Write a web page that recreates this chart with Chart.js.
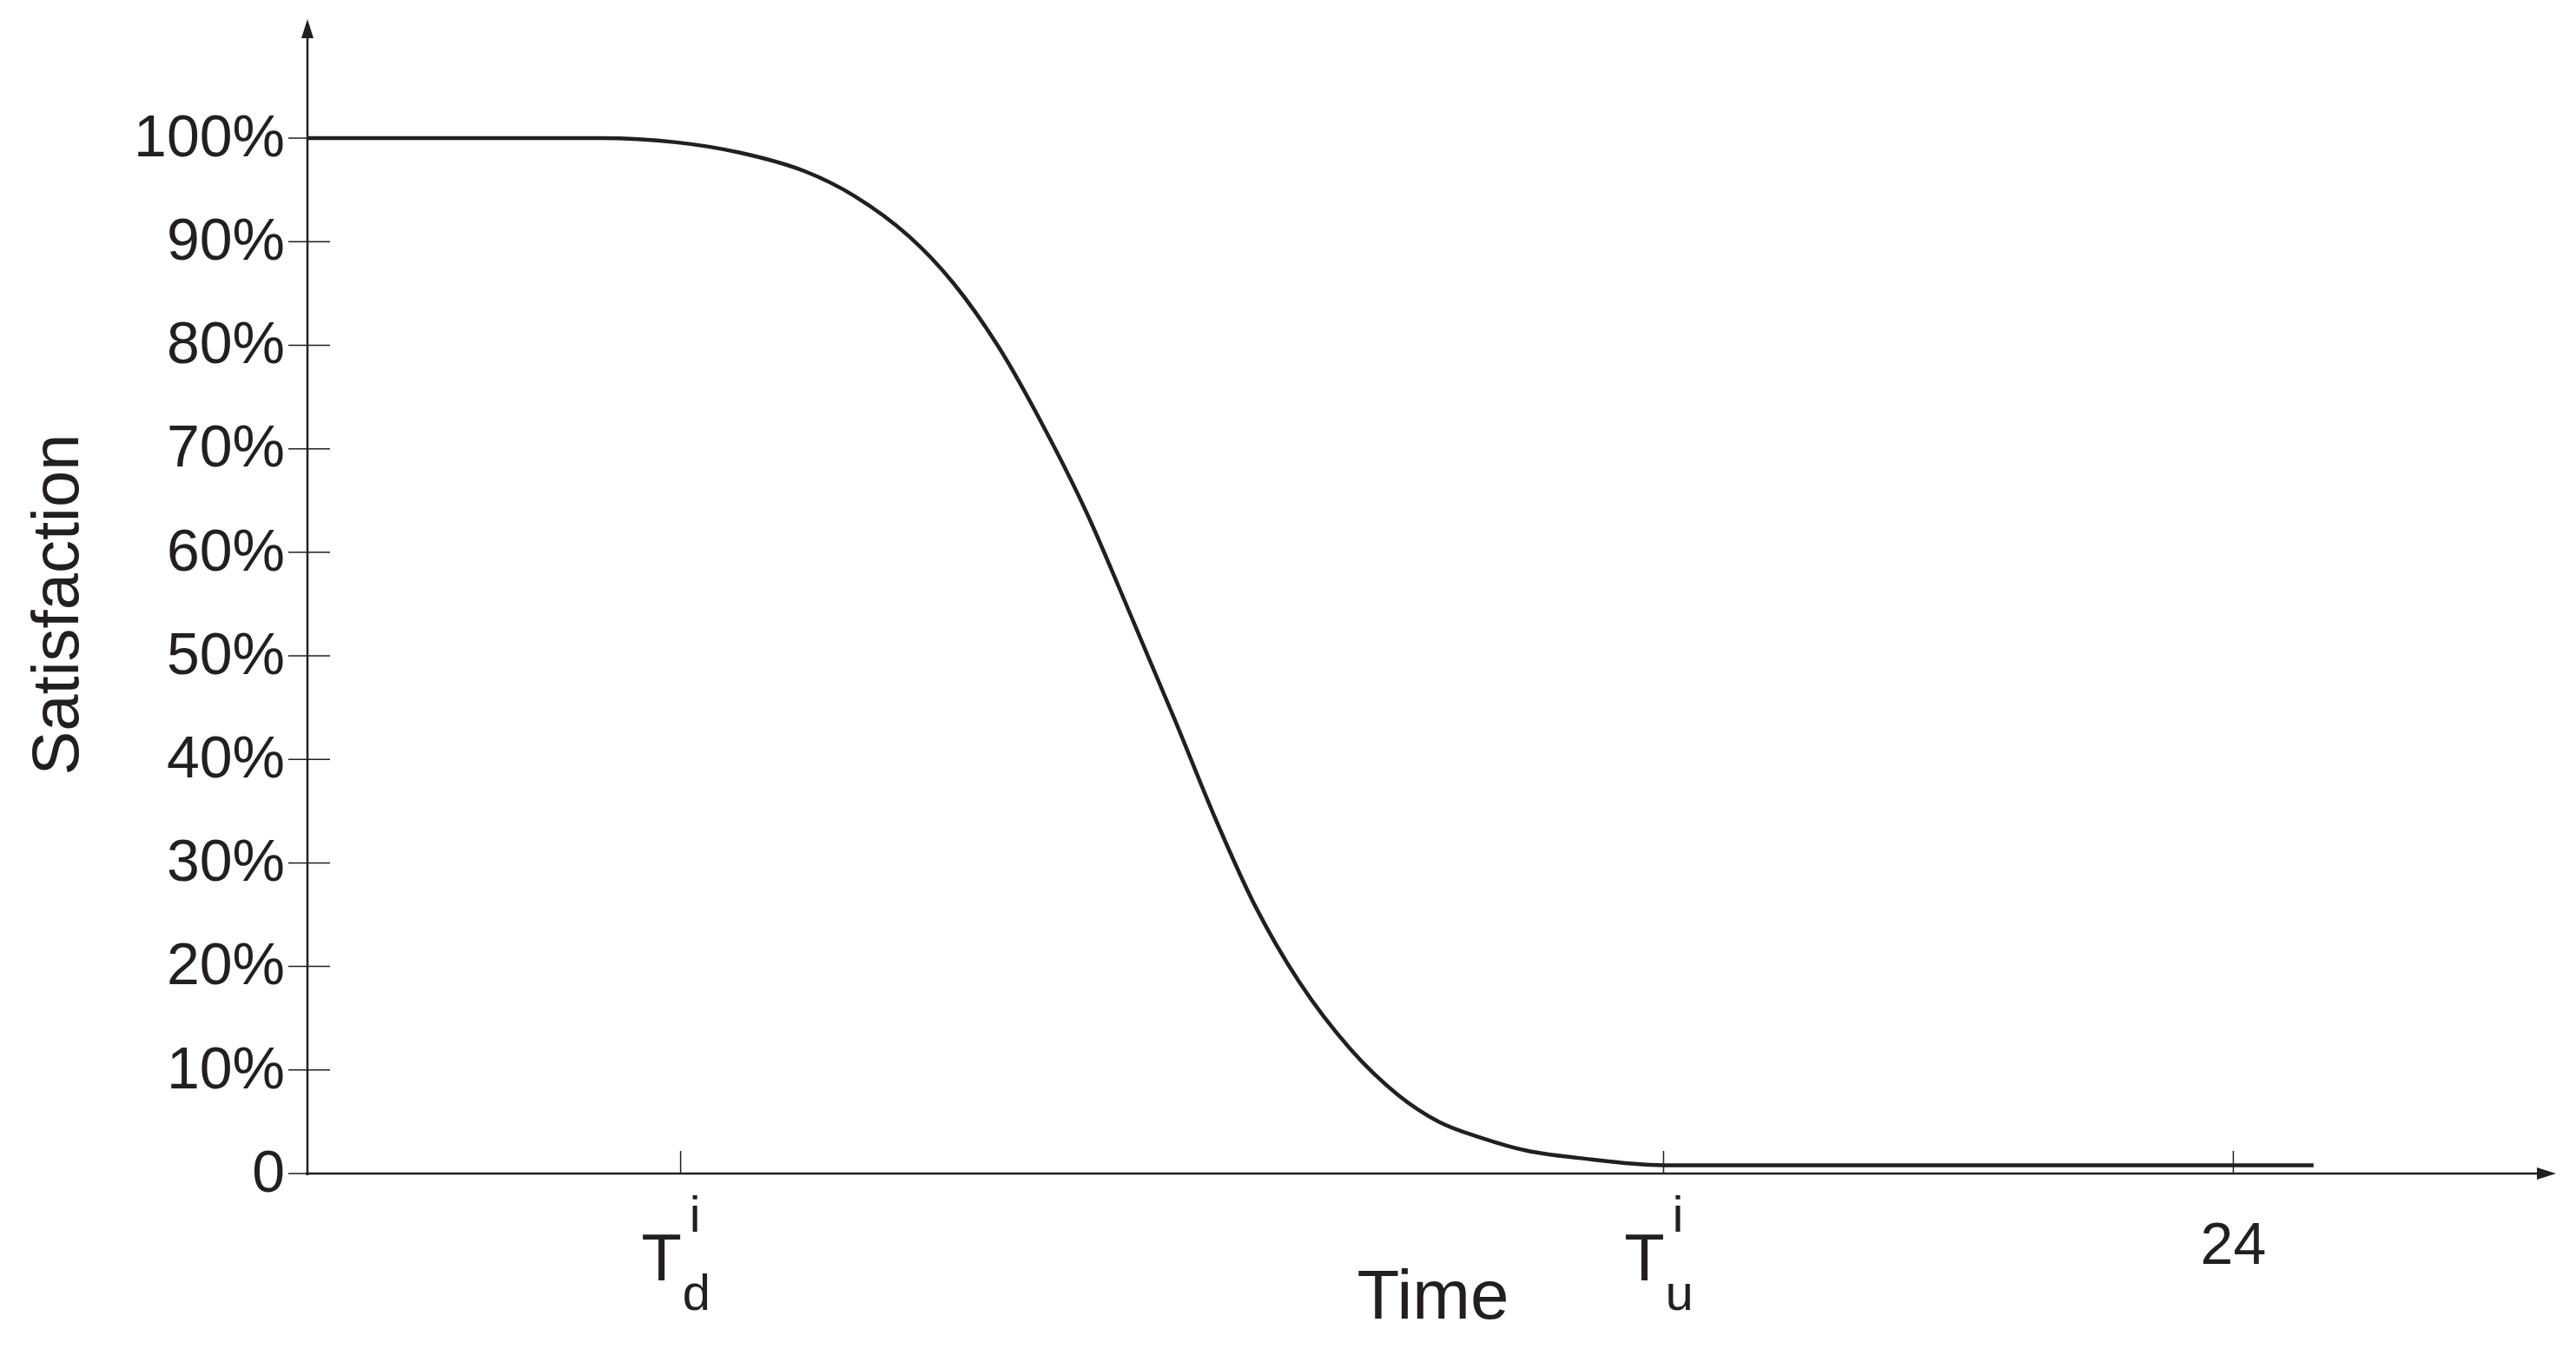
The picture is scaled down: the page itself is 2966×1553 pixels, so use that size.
<!DOCTYPE html>
<html><head><meta charset="utf-8">
<script src="https://cdn.jsdelivr.net/npm/chart.js@4"></script>
<style>html,body{margin:0;padding:0;background:#fff;}#w{width:2966px;height:1553px;}</style>
</head><body><div id="w"><canvas id="c" width="2966" height="1553"></canvas></div>
<script>
const hours = [0, 3.65, 4.6, 5.39, 6.2, 6.82, 7.5, 8.05, 8.6, 9.08, 9.7, 10.31, 10.8, 11.33, 11.8, 12.36, 13.0, 13.59, 14.1, 14.61, 15.2, 15.84, 16.9, 25];
const satisfaction = [100, 100, 99.6, 98.6, 96.8, 94.4, 90.5, 86, 80, 73.5, 64, 53, 44, 34, 26, 18.5, 12, 7.6, 5, 3.5, 2.2, 1.5, 0.8, 0.8];
const yTicks = [0, 10, 20, 30, 40, 50, 60, 70, 80, 90, 100];
const xTickValues = [4.65, 16.9, 24];
const xTickLabels = [["T","i","d"], ["T","i","u"], ["24"]];
const xTitle = "Time";
const yTitle = "Satisfaction";

const ink = '#231f20';
const F = '"Liberation Sans", Arial, sans-serif';
const deco = {
  id: 'deco',
  afterDraw(ch) {
    const c = ch.ctx, xs = ch.scales.x, ys = ch.scales.y;
    const x0 = xs.getPixelForValue(0), y0 = ys.getPixelForValue(0);
    const xEnd = xs.getPixelForValue(xs.max), yTop = ys.getPixelForValue(ys.max);
    c.save();
    c.strokeStyle = ink; c.fillStyle = ink; c.lineWidth = 2.5;
    c.beginPath(); c.moveTo(x0, y0 + 2); c.lineTo(x0, yTop + 4);
    c.moveTo(x0 - 2, y0); c.lineTo(xEnd - 4, y0); c.stroke();
    c.beginPath(); c.moveTo(x0, yTop - 6); c.lineTo(x0 - 7, yTop + 16); c.lineTo(x0 + 7, yTop + 16); c.closePath(); c.fill();
    c.beginPath(); c.moveTo(xEnd + 2, y0); c.lineTo(xEnd - 20, y0 - 7); c.lineTo(xEnd - 20, y0 + 7); c.closePath(); c.fill();
    c.lineWidth = 1.5;
    c.font = '68px ' + F; c.textAlign = 'right'; c.textBaseline = 'middle';
    yTicks.forEach(v => {
      const y = ys.getPixelForValue(v);
      c.beginPath(); c.moveTo(x0 - 22, y); c.lineTo(x0 + 26, y); c.stroke();
      c.fillText(v === 0 ? '0' : v + '%', 328, y + 2);
    });
    xTickValues.forEach((v, i) => {
      const x = xs.getPixelForValue(v);
      c.beginPath(); c.moveTo(x, y0); c.lineTo(x, y0 - 26); c.stroke();
      const l = xTickLabels[i];
      c.textBaseline = 'alphabetic';
      if (l.length === 1) { c.font = '68px ' + F; c.textAlign = 'center'; c.fillText(l[0], x, 1455); }
      else {
        c.font = '76px ' + F; c.textAlign = 'center'; c.fillText(l[0], x - 22, 1474);
        c.font = '58px ' + F; c.textAlign = 'left';
        c.fillText(l[1], x + 10, 1418); c.fillText(l[2], x + 2, 1508);
      }
    });
    c.font = '80px ' + F; c.textAlign = 'center'; c.textBaseline = 'alphabetic';
    c.fillText(xTitle, 1650, 1518);
    c.translate(90, 696); c.rotate(-Math.PI / 2); c.font = '76px ' + F;
    c.fillText(yTitle, 0, 0);
    c.restore();
  }
};
new Chart(document.getElementById('c'), {
  type: 'line',
  data: { datasets: [{ data: hours.map((h, i) => ({ x: h, y: satisfaction[i] })), borderColor: ink, borderWidth: 4.5, pointRadius: 0, cubicInterpolationMode: 'monotone', fill: false }] },
  options: {
    responsive: false, animation: false, devicePixelRatio: 1,
    layout: { padding: { left: 354, right: 25, top: 28, bottom: 202 } },
    plugins: { legend: { display: false }, tooltip: { enabled: false } },
    scales: {
      x: { type: 'linear', min: 0, max: 28, display: false },
      y: { min: 0, max: 111, display: false }
    }
  },
  plugins: [deco]
});
</script></body></html>
